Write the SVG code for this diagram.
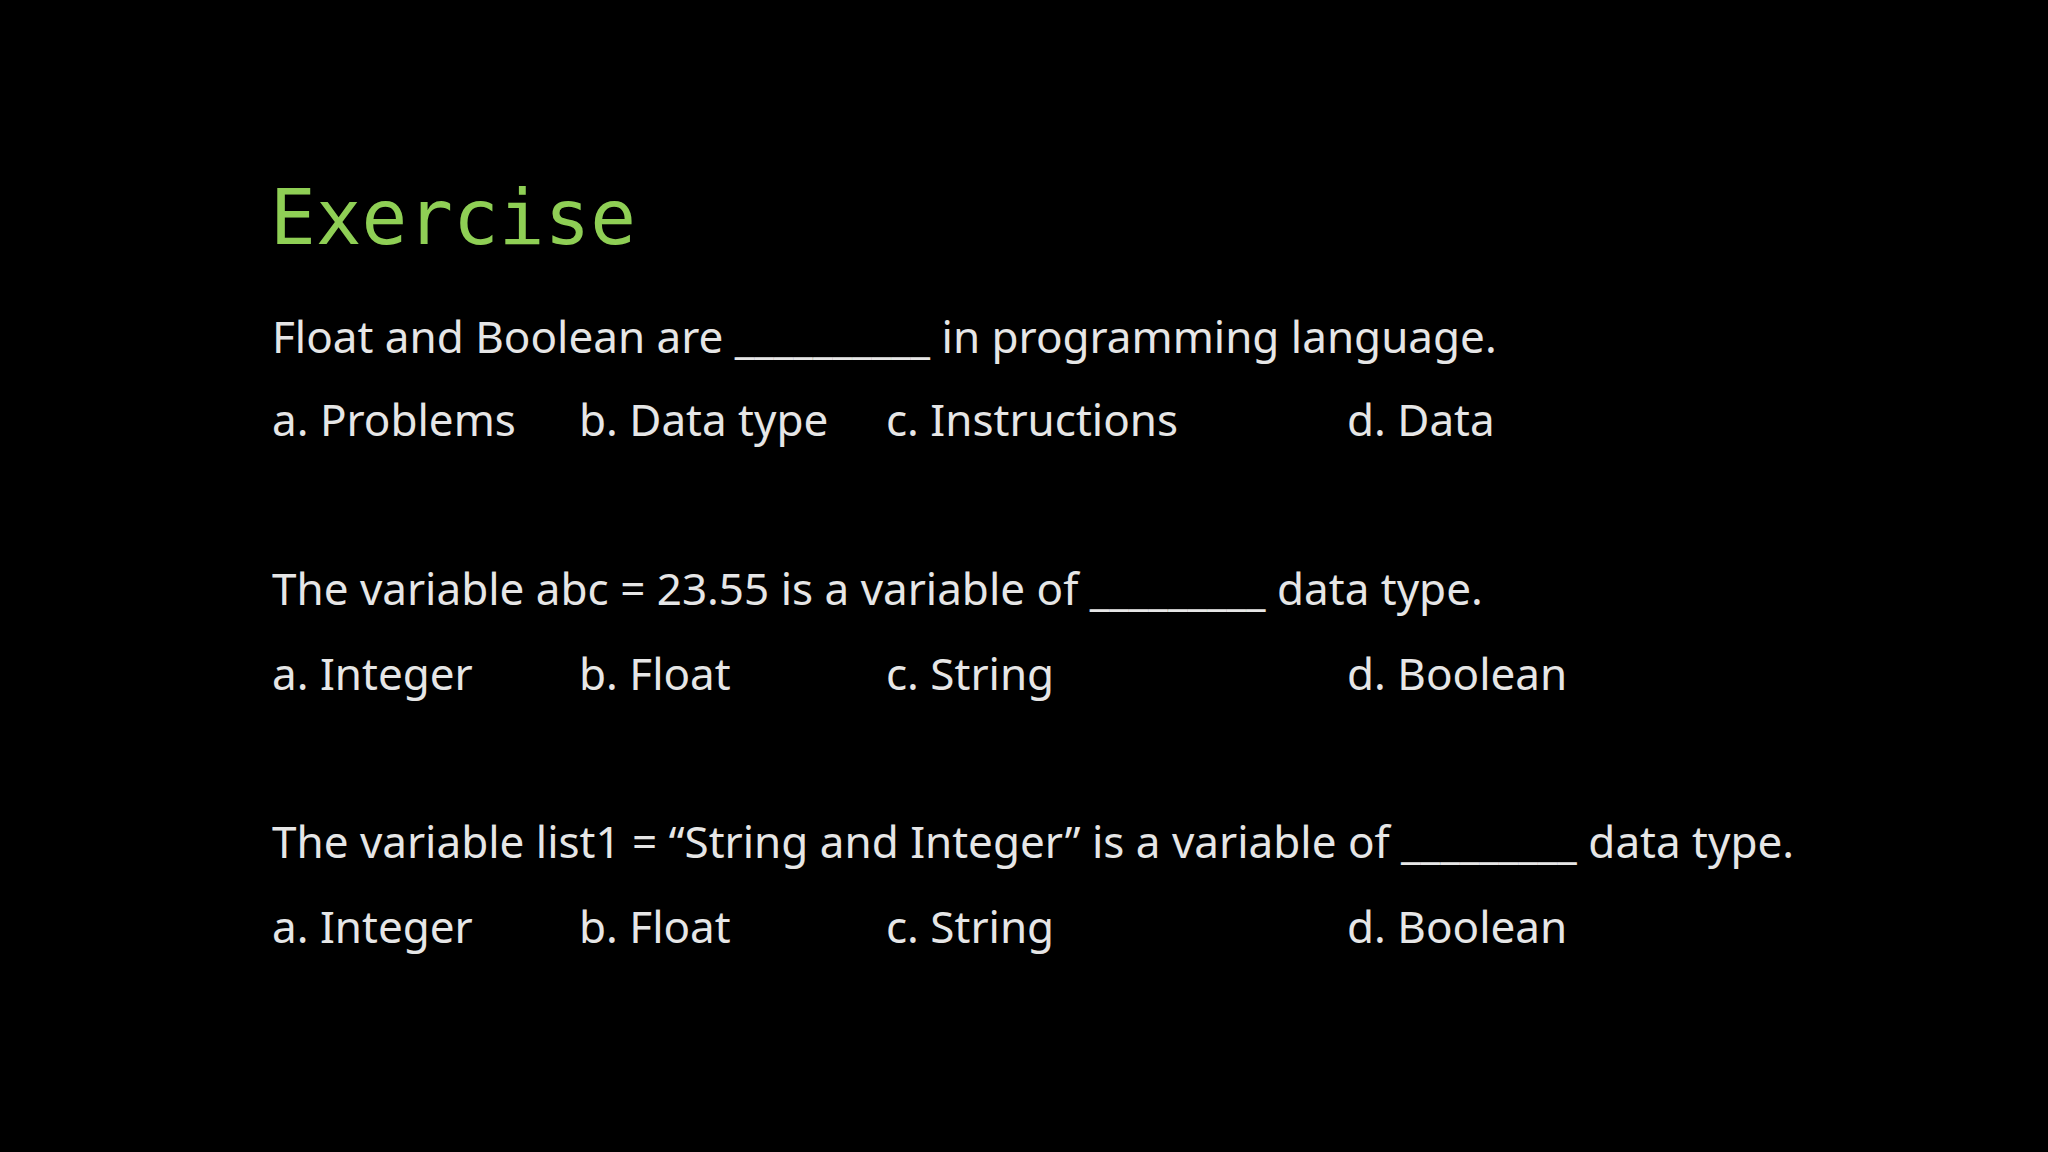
<svg xmlns="http://www.w3.org/2000/svg" width="2048" height="1152" viewBox="0 0 2048 1152">
<style>
.t{font-family:"Noto Sans","Open Sans",sans-serif;font-size:44px;fill:#e6e6e6}
.h{font-family:"DejaVu Sans Mono","Liberation Mono",monospace;font-size:76px;fill:#8fcf55}
</style>
<rect width="2048" height="1152" fill="#000"/>
<text class="h" x="270" y="244">Exercise</text>
<g id="q1">
<text class="t" x="272" y="353">Float and Boolean are __________ in programming language.</text>
<text class="t" x="272" y="436">a. Problems</text><text class="t" x="579" y="436">b. Data type</text><text class="t" x="886" y="436">c. Instructions</text><text class="t" x="1347" y="436">d. Data</text>
</g>
<g id="q2">
<text class="t" x="272" y="605">The variable abc = 23.55 is a variable of _________ data type.</text>
<text class="t" x="272" y="690">a. Integer</text><text class="t" x="579" y="690">b. Float</text><text class="t" x="886" y="690">c. String</text><text class="t" x="1347" y="690">d. Boolean</text>
</g>
<g id="q3">
<text class="t" x="272" y="858">The variable list1 = “String and Integer” is a variable of _________ data type.</text>
<text class="t" x="272" y="943">a. Integer</text><text class="t" x="579" y="943">b. Float</text><text class="t" x="886" y="943">c. String</text><text class="t" x="1347" y="943">d. Boolean</text>
</g>
</svg>
